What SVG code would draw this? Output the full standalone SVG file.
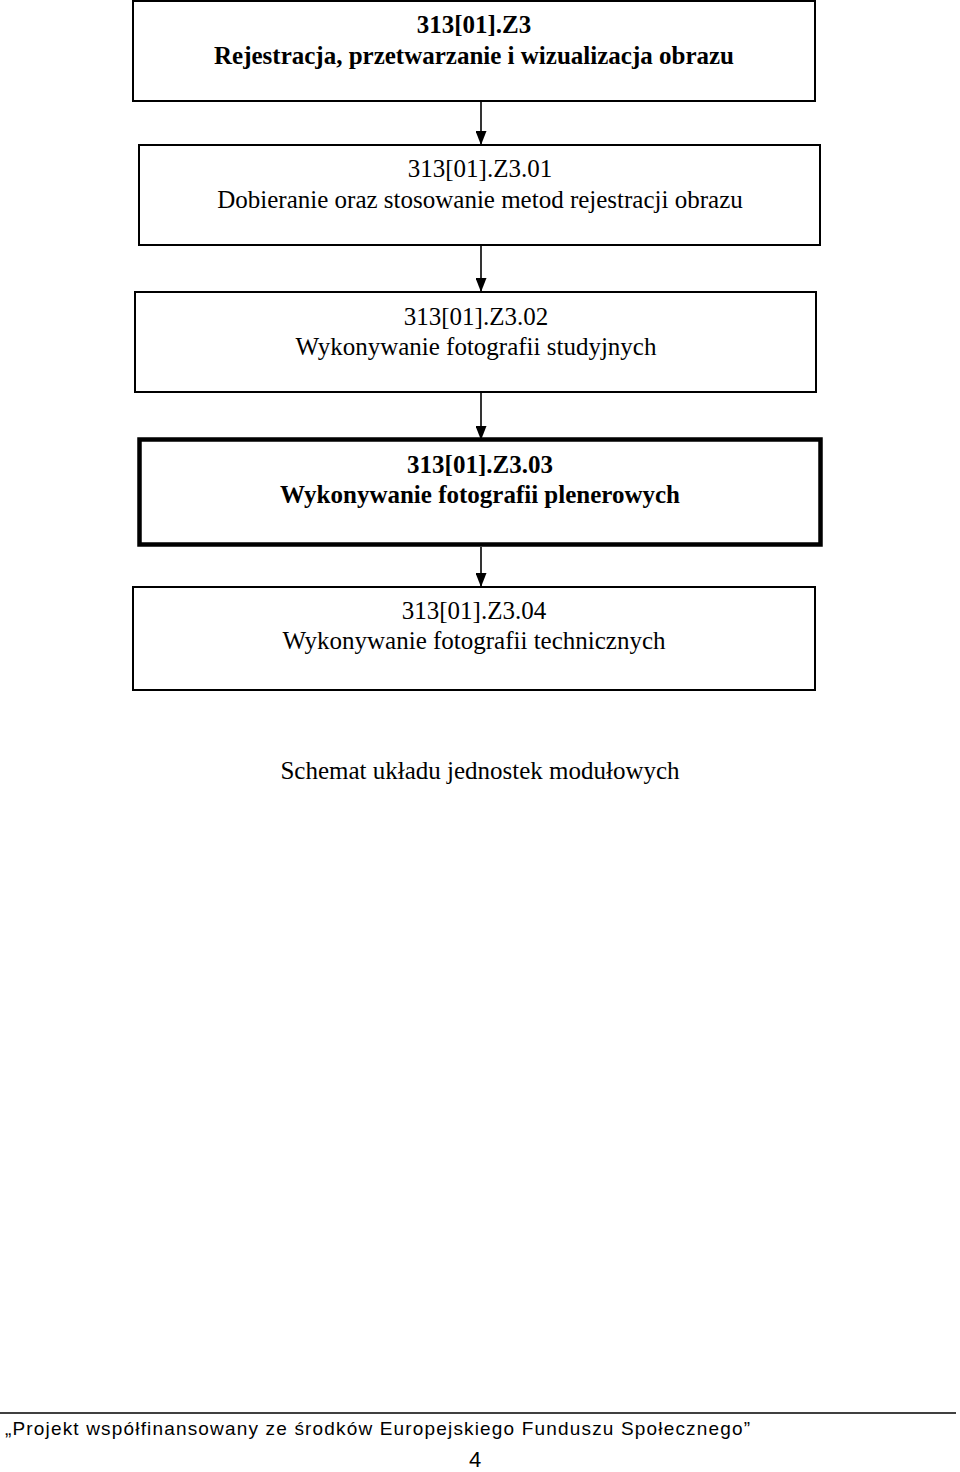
<svg xmlns="http://www.w3.org/2000/svg" width="960" height="1472" viewBox="0 0 960 1472">
<defs>
<marker id="ah" viewBox="0 0 14 11" refX="14" refY="5.5" markerWidth="14" markerHeight="11" markerUnits="userSpaceOnUse" orient="auto">
<path d="M0,0 L14,5.5 L0,11 Z" fill="#000"/>
</marker>
<style>
.box{fill:#fff;stroke:#000;stroke-width:2}
.thick{fill:#fff;stroke:#000;stroke-width:4.5}
.t{font-family:"Liberation Serif","Times New Roman",serif;font-size:25px;fill:#000;text-anchor:middle}
.b{font-weight:bold}
.con{stroke:#000;stroke-width:1.6;fill:none}
.foot{font-family:"Liberation Sans",Arial,sans-serif;font-size:19px;fill:#000}
</style>
</defs>
<rect width="960" height="1472" fill="#fff"/>
<g id="connectors">
<line class="con" x1="481" y1="102" x2="481" y2="145" marker-end="url(#ah)"/>
<line class="con" x1="481" y1="246" x2="481" y2="292" marker-end="url(#ah)"/>
<line class="con" x1="481" y1="393" x2="481" y2="440" marker-end="url(#ah)"/>
<line class="con" x1="481" y1="547" x2="481" y2="587" marker-end="url(#ah)"/>
</g>
<g id="node-z3">
<rect class="box" x="133" y="1" width="682" height="100"/>
<text class="t b" x="474" y="33">313[01].Z3</text>
<text class="t b" x="474" y="64">Rejestracja, przetwarzanie i wizualizacja obrazu</text>
</g>
<g id="node-z3-01">
<rect class="box" x="139" y="145" width="681" height="100"/>
<text class="t" x="480" y="177">313[01].Z3.01</text>
<text class="t" x="480" y="208">Dobieranie oraz stosowanie metod rejestracji obrazu</text>
</g>
<g id="node-z3-02">
<rect class="box" x="135" y="292" width="681" height="100"/>
<text class="t" x="476" y="325">313[01].Z3.02</text>
<text class="t" x="476" y="355">Wykonywanie fotografii studyjnych</text>
</g>
<g id="node-z3-03">
<rect class="thick" x="139.5" y="439.5" width="681" height="105"/>
<text class="t b" x="480" y="473">313[01].Z3.03</text>
<text class="t b" x="480" y="503">Wykonywanie fotografii plenerowych</text>
</g>
<g id="node-z3-04">
<rect class="box" x="133" y="587" width="682" height="103"/>
<text class="t" x="474" y="619">313[01].Z3.04</text>
<text class="t" x="474" y="649">Wykonywanie fotografii technicznych</text>
</g>
<text class="t" x="480" y="779">Schemat układu jednostek modułowych</text>
<line x1="0" y1="1413" x2="956" y2="1413" stroke="#000" stroke-width="1.5"/>
<text class="foot" x="5" y="1435" textLength="745" lengthAdjust="spacing">„Projekt współfinansowany ze środków Europejskiego Funduszu Społecznego”</text>
<text class="foot" x="475" y="1467" style="font-size:22px;text-anchor:middle">4</text>
</svg>
